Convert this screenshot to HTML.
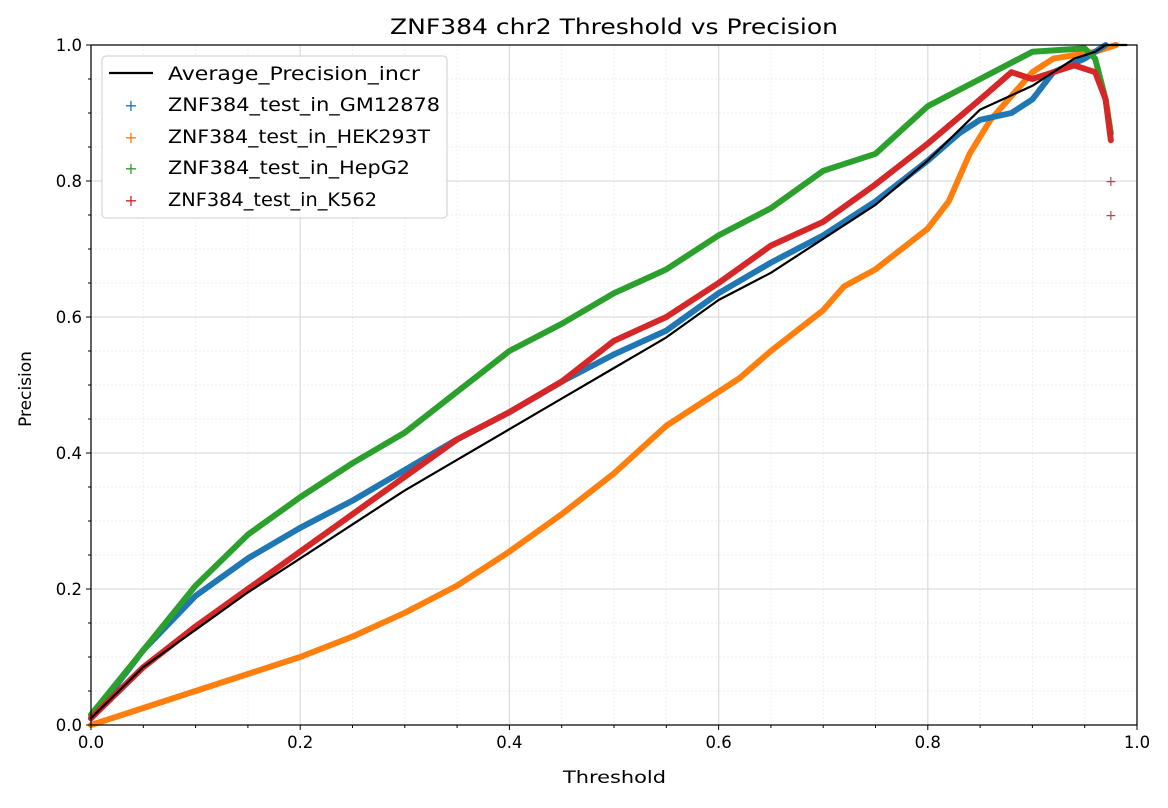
<!DOCTYPE html>
<html><head><meta charset="utf-8"><style>
body{margin:0;background:#fff}
svg text{font-family:"DejaVu Sans","Liberation Sans",sans-serif;fill:#000}
</style></head><body>
<svg id="chart" width="1168" height="803" xmlns="http://www.w3.org/2000/svg">
<text x="390" y="34" font-size="21" textLength="448" lengthAdjust="spacingAndGlyphs">ZNF384 chr2 Threshold vs Precision</text>
<g id="grid"></g><g id="series"></g><g id="axes"></g>
<text x="563" y="783" font-size="17" textLength="103" lengthAdjust="spacingAndGlyphs">Threshold</text>
<text x="31" y="389" font-size="17" text-anchor="middle" transform="rotate(-90 31 389)">Precision</text>
<g>
<rect x="102" y="56" width="345" height="162" rx="4" fill="#fff" fill-opacity="0.9" stroke="#ccc"/>
<line x1="109" y1="73" x2="153" y2="73" stroke="#000" stroke-width="2.2"/>
<text x="168" y="80" font-size="19" textLength="252" lengthAdjust="spacingAndGlyphs">Average_Precision_incr</text>
<text x="131" y="111" font-size="16" text-anchor="middle" style="fill:#1f77b4">+</text>
<text x="168" y="111" font-size="19" textLength="272" lengthAdjust="spacingAndGlyphs">ZNF384_test_in_GM12878</text>
<text x="131" y="143" font-size="16" text-anchor="middle" style="fill:#ff7f0e">+</text>
<text x="168" y="143" font-size="19" textLength="262" lengthAdjust="spacingAndGlyphs">ZNF384_test_in_HEK293T</text>
<text x="131" y="174" font-size="16" text-anchor="middle" style="fill:#2ca02c">+</text>
<text x="168" y="174" font-size="19" textLength="242" lengthAdjust="spacingAndGlyphs">ZNF384_test_in_HepG2</text>
<text x="131" y="206" font-size="16" text-anchor="middle" style="fill:#d62728">+</text>
<text x="168" y="206" font-size="19" textLength="209" lengthAdjust="spacingAndGlyphs">ZNF384_test_in_K562</text>
</g>
</svg>
<script>
const thrGM=[0,0.02,0.05,0.1,0.15,0.2,0.25,0.3,0.35,0.4,0.45,0.5,0.55,0.6,0.65,0.7,0.75,0.8,0.83,0.85,0.88,0.9,0.92,0.95,0.97];
const precGM=[0.01,0.05,0.11,0.19,0.245,0.29,0.33,0.375,0.42,0.46,0.505,0.545,0.58,0.635,0.68,0.72,0.77,0.83,0.87,0.89,0.9,0.92,0.96,0.98,1.0];
const thrHEK=[0,0.05,0.1,0.15,0.2,0.25,0.3,0.35,0.4,0.45,0.5,0.55,0.6,0.62,0.65,0.7,0.72,0.75,0.8,0.82,0.84,0.86,0.9,0.92,0.96,0.98];
const precHEK=[0,0.025,0.05,0.075,0.1,0.13,0.165,0.205,0.255,0.31,0.37,0.44,0.49,0.51,0.55,0.61,0.645,0.67,0.73,0.77,0.84,0.89,0.96,0.98,0.99,1.0];
const thrHep=[0,0.05,0.1,0.15,0.2,0.25,0.3,0.35,0.4,0.45,0.5,0.55,0.6,0.65,0.7,0.75,0.8,0.85,0.9,0.95,0.96,0.97,0.975];
const precHep=[0.015,0.11,0.205,0.28,0.335,0.385,0.43,0.49,0.55,0.59,0.635,0.67,0.72,0.76,0.815,0.84,0.91,0.95,0.99,0.995,0.98,0.92,0.87];
const thrK=[0,0.05,0.1,0.15,0.2,0.25,0.3,0.35,0.4,0.45,0.5,0.55,0.6,0.65,0.7,0.75,0.8,0.85,0.88,0.9,0.92,0.94,0.96,0.97,0.975];
const precK=[0.01,0.085,0.145,0.2,0.255,0.31,0.365,0.42,0.46,0.505,0.565,0.6,0.65,0.705,0.74,0.795,0.855,0.92,0.96,0.95,0.96,0.97,0.96,0.92,0.86];
const thrAvg=[0,0.05,0.1,0.15,0.2,0.25,0.3,0.35,0.4,0.45,0.5,0.55,0.6,0.65,0.7,0.75,0.8,0.85,0.9,0.92,0.94,0.96,0.97,0.99];
const precAvg=[0.01,0.085,0.14,0.195,0.245,0.295,0.345,0.39,0.435,0.48,0.525,0.57,0.625,0.665,0.715,0.765,0.83,0.905,0.94,0.96,0.98,0.99,1.0,1.0];
const outlierThr=[0.975,0.975];
const outlierPrec=[0.8,0.75];
const tickVals=[0,0.2,0.4,0.6,0.8,1.0];
const tickLabels=["0.0","0.2","0.4","0.6","0.8","1.0"];
const L=91,R=1137,T=45,B=725;
const sx=v=>L+v*(R-L), sy=v=>B-v*(B-T);
const NS="http://www.w3.org/2000/svg";
function mk(tag,attrs,parent){const e=document.createElementNS(NS,tag);for(const k in attrs)e.setAttribute(k,attrs[k]);parent.appendChild(e);return e;}
const grid=document.getElementById('grid'),axes=document.getElementById('axes'),ser=document.getElementById('series');
for(let i=1;i<20;i++){const v=i/20;if(i%4===0)continue;
 mk('line',{x1:sx(v),x2:sx(v),y1:T,y2:B,stroke:'#eee','stroke-dasharray':'2,2'},grid);
 mk('line',{x1:L,x2:R,y1:sy(v),y2:sy(v),stroke:'#eee','stroke-dasharray':'2,2'},grid);
 mk('line',{x1:sx(v),x2:sx(v),y1:B,y2:B+3,stroke:'#000'},axes);
 mk('line',{x1:L-3,x2:L,y1:sy(v),y2:sy(v),stroke:'#000'},axes);}
tickVals.forEach((v,i)=>{
 mk('line',{x1:sx(v),x2:sx(v),y1:T,y2:B,stroke:'#ddd','stroke-width':1.3},grid);
 mk('line',{x1:L,x2:R,y1:sy(v),y2:sy(v),stroke:'#ddd','stroke-width':1.3},grid);
 mk('line',{x1:sx(v),x2:sx(v),y1:B,y2:B+5,stroke:'#000'},axes);
 mk('line',{x1:L-5,x2:L,y1:sy(v),y2:sy(v),stroke:'#000'},axes);
 const tx=mk('text',{x:sx(v),y:B+23,'font-size':16.5,'text-anchor':'middle'},axes);tx.textContent=tickLabels[i];
 
 
 const ty=mk('text',{x:L-9,y:sy(v)+6,'font-size':16.5,'text-anchor':'end'},axes);ty.textContent=tickLabels[i];
 
 
});
mk('rect',{x:L,y:T,width:R-L,height:B-T,fill:'none',stroke:'#000','stroke-width':1.2},axes);
function line(xs,ys,color,w,name){
 const p=mk('polyline',{points:xs.map((x,i)=>sx(x)+','+sy(ys[i])).join(' '),fill:'none',stroke:color,'stroke-width':w,'stroke-linejoin':'round','stroke-linecap':'round'},ser);
 
 
}
line(thrHEK,precHEK,'#ff7f0e',6,'series-hek293t');
line(thrGM,precGM,'#1f77b4',6,'series-gm12878');
line(thrHep,precHep,'#2ca02c',6,'series-hepg2');
line(thrK,precK,'#d62728',6,'series-k562');
line(thrAvg,precAvg,'#000',2.2,'series-average-precision');
outlierThr.forEach((x,i)=>{
 const t=mk('text',{x:sx(x),y:sy(outlierPrec[i])+5,'font-size':14,'text-anchor':'middle',style:'fill:#a05050'},ser);t.textContent='+';
 
 
});
</script>
</body></html>
